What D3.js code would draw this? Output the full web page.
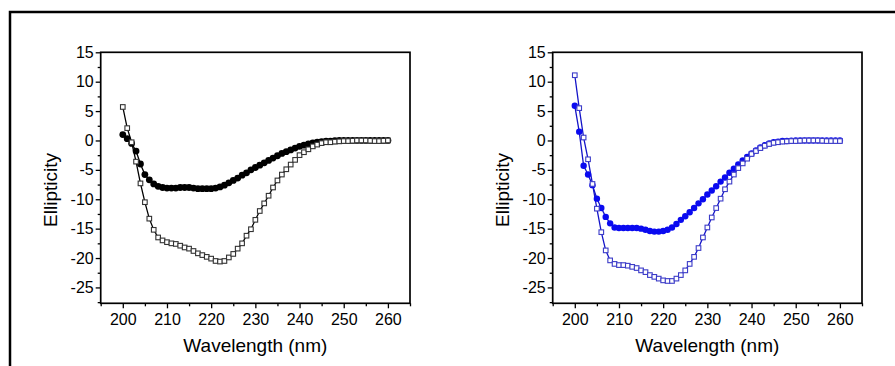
<!DOCTYPE html>
<html><head><meta charset="utf-8">
<script src="https://cdn.jsdelivr.net/npm/d3@7"></script>
<style>body{margin:0;background:#fff}svg{display:block}</style>
</head><body>
<svg id="c" width="895" height="366"></svg>
<script>
const wavelengths = [200,201,202,203,204,205,206,207,208,209,210,211,212,213,214,215,216,217,218,219,220,221,222,223,224,225,226,227,228,229,230,231,232,233,234,235,236,237,238,239,240,241,242,243,244,245,246,247,248,249,250,251,252,253,254,255,256,257,258,259,260];

const leftCircles = [1.0,0.3,-0.5,-1.8,-4.0,-5.8,-6.7,-7.4,-7.8,-8.0,
 -8.1,-8.1,-8.1,-8.0,-8.0,-8.0,-8.1,-8.2,-8.2,-8.2,
 -8.2,-8.1,-7.9,-7.6,-7.2,-6.8,-6.4,-5.9,-5.5,-5.0,
 -4.6,-4.2,-3.8,-3.4,-3.0,-2.6,-2.2,-1.9,-1.6,-1.3,
 -1.0,-0.8,-0.6,-0.4,-0.3,-0.2,-0.1,-0.1,-0.05,0,
 0,0,0,0,0,0,0,0,0,0,0];
const leftSquares = [5.7,2.1,-0.3,-3.6,-7.3,-10.5,-13.3,-15.2,-16.5,-17.0,
 -17.3,-17.5,-17.6,-17.9,-18.2,-18.4,-18.8,-19.2,-19.5,-19.8,
 -20.1,-20.5,-20.6,-20.5,-19.9,-19.3,-18.4,-17.5,-16.2,-15.1,
 -13.5,-12.0,-10.7,-9.4,-8.0,-6.8,-5.8,-4.9,-4.1,-3.3,
 -2.5,-2.0,-1.5,-1.0,-0.7,-0.45,-0.3,-0.3,-0.2,-0.15,
 -0.1,-0.1,-0.05,0,0,0,-0.05,-0.1,-0.1,-0.05,0];
const rightCircles = [5.9,1.5,-4.3,-5.8,-7.6,-9.9,-11.5,-13.0,-14.1,-14.8,
 -14.9,-14.9,-14.9,-14.9,-14.9,-15.0,-15.2,-15.4,-15.5,-15.5,
 -15.4,-15.2,-14.8,-14.2,-13.5,-12.9,-12.2,-11.5,-10.7,-10.0,
 -9.2,-8.5,-7.8,-7.0,-6.3,-5.5,-4.8,-4.1,-3.4,-2.8,
 -2.2,-1.7,-1.2,-0.8,-0.5,-0.3,-0.2,-0.1,-0.1,-0.05,
 0,0,0,0,0,0,0,0,0,0,0];
const rightSquares = [11.1,5.5,0.5,-3.2,-7.4,-11.6,-15.6,-18.7,-20.4,-21.0,
 -21.2,-21.2,-21.3,-21.5,-21.7,-22.1,-22.4,-22.9,-23.2,-23.5,
 -23.8,-23.9,-23.9,-23.5,-22.9,-22.1,-21.0,-19.8,-18.3,-16.5,
 -14.8,-13.1,-11.5,-9.9,-8.3,-7.0,-5.8,-4.7,-3.9,-3.1,
 -2.3,-1.8,-1.3,-0.9,-0.6,-0.4,-0.3,-0.2,-0.15,-0.1,
 -0.1,-0.05,0,0,0,0,-0.05,-0.1,-0.1,-0.1,-0.1];

const xTicks = [200,210,220,230,240,250,260];
const yTicks = [15,10,5,0,-5,-10,-15,-20,-25];
const xTitle = "Wavelength (nm)";
const yTitle = "Ellipticity";

const svg = d3.select("#c");
const FONT = "'Liberation Sans', Arial, sans-serif";

// outer frame
svg.append("rect").attr("x",10).attr("y",12).attr("width",900).attr("height",370)
  .attr("fill","none").attr("stroke","#000").attr("stroke-width",2.5);

function panel(left, circles, squares, opts){
  const top = 52.3, bottom = 303.3, right = left + 309.3;
  const x = d3.scaleLinear().domain([195,265]).range([left,right]);
  const y = d3.scaleLinear().domain([-27.7,15]).range([bottom,top]);
  const g = svg.append("g");

  const xMinor = d3.range(195,266,5).filter(v=>!xTicks.includes(v));
  const yMinor = d3.range(-27.5,15.1,2.5).filter(v=>!yTicks.includes(v));
  g.append("g").attr("transform",`translate(0,${bottom})`)
    .call(d3.axisBottom(x).tickValues(xMinor).tickSize(3).tickFormat(""))
    .call(a=>a.select(".domain").remove());
  g.append("g").attr("transform",`translate(${left},0)`)
    .call(d3.axisLeft(y).tickValues(yMinor).tickSize(3).tickFormat(""))
    .call(a=>a.select(".domain").remove());

  const xa = g.append("g").attr("transform",`translate(0,${bottom})`)
    .call(d3.axisBottom(x).tickValues(xTicks).tickSize(5).tickPadding(5).tickFormat(d3.format("d")));
  xa.select(".domain").remove();
  xa.selectAll("text").attr("font-size",16).attr("font-family",FONT).attr("fill","#000");
  const ya = g.append("g").attr("transform",`translate(${left},0)`)
    .call(d3.axisLeft(y).tickValues(yTicks).tickSize(5).tickPadding(2).tickFormat(d=>d<0?"-"+Math.abs(d):d));
  ya.select(".domain").remove();
  ya.selectAll("text").attr("font-size",16).attr("font-family",FONT).attr("fill","#000");
  g.selectAll(".tick line").attr("stroke","#000").attr("stroke-width",1.3);

  g.append("rect").attr("x",left).attr("y",top).attr("width",right-left).attr("height",bottom-top)
    .attr("fill","none").attr("stroke","#000").attr("stroke-width",1.7);

  const data1 = wavelengths.map((w,i)=>({w, v:circles[i]}));
  const data2 = wavelengths.map((w,i)=>({w, v:squares[i]}));
  const line = d3.line().x(d=>x(d.w)).y(d=>y(d.v));

  g.append("path").datum(data2).attr("d",line).attr("fill","none")
    .attr("stroke",opts.line).attr("stroke-width",1.3);
  g.append("path").datum(data1).attr("d",line).attr("fill","none")
    .attr("stroke",opts.line).attr("stroke-width",1.3);
  g.selectAll(".c").data(data1).join("circle").attr("cx",d=>x(d.w)).attr("cy",d=>y(d.v))
    .attr("r",opts.r).attr("fill",opts.circle);
  const s = 4.6;
  g.selectAll(".s").data(data2).join("rect").attr("x",d=>x(d.w)-s/2).attr("y",d=>y(d.v)-s/2)
    .attr("width",s).attr("height",s).attr("fill","#fff").attr("stroke",opts.square).attr("stroke-width",1.1);

  g.append("text").attr("x",(left+right)/2).attr("y",352).attr("text-anchor","middle")
    .attr("font-size",19).attr("font-family",FONT).text(xTitle);
  g.append("text").attr("transform",`translate(${left-44},190) rotate(-90)`).attr("text-anchor","middle")
    .attr("font-size",19).attr("font-family",FONT).text(yTitle);
}

panel(100.7, leftCircles, leftSquares, {line:"#000", circle:"#000", square:"#333", r:3.4});
panel(552.7, rightCircles, rightSquares, {line:"#1414c8", circle:"#0a0af0", square:"#3c3cc8", r:3.2});
</script>
</body></html>
